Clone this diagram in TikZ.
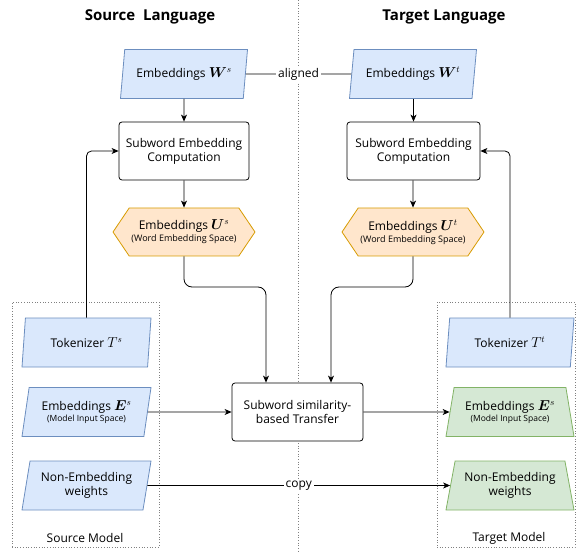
\documentclass[tikz,border=0pt]{standalone}
\usepackage{fontspec}
\setmainfont{Open Sans}
\usepackage{amsmath,bm}
\usetikzlibrary{shapes.geometric,shapes.symbols,arrows.meta}
\definecolor{bluefill}{HTML}{DAE8FC}
\definecolor{bluedraw}{HTML}{6C8EBF}
\definecolor{orfill}{HTML}{FFE6CC}
\definecolor{ordraw}{HTML}{D79B00}
\definecolor{grfill}{HTML}{D5E8D4}
\definecolor{grdraw}{HTML}{82B366}
% math symbols set a little larger than the surrounding text
\newcommand{\msym}[1]{{\fontsize{13.5}{14}\selectfont$#1$}}
\begin{document}
\begin{tikzpicture}[x=1pt,y=-1pt,
  font=\fontsize{12}{14}\selectfont,
  para/.style={trapezium, trapezium left angle=74, trapezium right angle=106,
    trapezium stretches body, draw=bluedraw, fill=bluefill, line width=0.8pt,
    minimum height=49pt, minimum width=129pt, align=center, inner sep=1pt},
  trap/.style={trapezium, trapezium angle=72, trapezium stretches body,
    draw=grdraw, fill=grfill, line width=0.8pt,
    minimum height=49pt, minimum width=128pt, align=center, inner sep=1pt},
  hexa/.style={signal, signal to=east and west, signal pointer angle=112,
    draw=ordraw, fill=orfill, line width=0.8pt,
    minimum width=142pt, minimum height=48pt, align=center, inner sep=1pt},
  proc/.style={draw, rounded corners=3pt, line width=0.8pt, fill=white,
    minimum width=130pt, minimum height=58pt, align=center, inner sep=1pt},
  frame/.style={draw=gray, dotted, line width=0.7pt},
  title/.style={font=\bfseries\fontsize{15}{17}\selectfont},
  conn/.style={line width=0.8pt},
  arr/.style={conn, -{Stealth[length=7pt,width=6pt,inset=2pt]}},
  lbl/.style={fill=white, inner sep=2pt}
]
\useasboundingbox (0,0) rectangle (586,553);

% divider between the two languages
\coordinate (divtop) at (298,0);
\coordinate (divbot) at (298,553);
\draw[frame] (divtop) -- (divbot);

% model frames
\node[frame, minimum width=147pt, minimum height=245pt] (mS) at (85.5,424.5) {};
\node[frame, minimum width=138pt, minimum height=245pt] (mT) at (506,424.5) {};
\node (mSl) at (85,538) {Source Model};
\node (mTl) at (509,538) {Target Model};

% titles
\node[title] (tS) at (150,17) {Source\ \ Language};
\node[title] (tT) at (444,17) {Target Language};

% word embeddings
\node[para, minimum width=127pt] (Ws) at (184,74) {Embeddings \msym{\bm{W}^s}};
\node[para, minimum width=127pt] (Wt) at (413,74) {Embeddings \msym{\bm{W}^t}};

% subword embedding computation
\node[proc] (cS) at (184,151) {Subword Embedding\\Computation};
\node[proc, minimum width=133pt] (cT) at (413.5,151) {Subword Embedding\\Computation};

% subword embeddings in word space
\node[hexa] (uS) at (184,232) {Embeddings \msym{\bm{U}^s}\\[-2pt]{\fontsize{9}{11}\selectfont (Word Embedding Space)}};
\node[hexa] (uT) at (413,232) {Embeddings \msym{\bm{U}^t}\\[-2pt]{\fontsize{9}{11}\selectfont (Word Embedding Space)}};

% transfer
\node[proc, minimum width=131pt] (tr) at (297.5,412) {Subword similarity-\\based Transfer};

% source model parts
\node[para] (TkS) at (86.5,342.5) {Tokenizer \msym{T^s}};
\node[para] (ES) at (86.5,412) {Embeddings \msym{\bm{E}^s}\\[-3pt]{\fontsize{8.5}{10}\selectfont (Model Input Space)}};
\node[para] (NS) at (86.5,485.5) {Non-Embedding\\weights};

% target model parts
\node[para, minimum width=128pt] (TkT) at (510,342.5) {Tokenizer \msym{T^t}};
\node[trap] (ET) at (510,412) {Embeddings \msym{\bm{E}^s}\\[-3pt]{\fontsize{8.5}{10}\selectfont (Model Input Space)}};
\node[trap] (NT) at (510,485.5) {Non-Embedding\\weights};

% connectors
\draw[conn] (Ws) -- node[lbl] {aligned} (Wt);
\draw[arr] (Ws) -- (cS);
\draw[arr] (Wt.south -| cT) -- (cT);
\draw[arr] (cS) -- (uS);
\draw[arr] (cT.south -| uT) -- (uT);

\coordinate (kS) at (266,287);
\coordinate (kT) at (331,287);
\draw[arr, rounded corners=8pt] (uS.south) |- (kS) -- (kS |- tr.north);
\draw[arr, rounded corners=8pt] (uT.south) |- (kT) -- (kT |- tr.north);

\draw[arr, rounded corners=5pt] (TkS.north) |- (cS.west);
\draw[arr, rounded corners=5pt] (TkT.north) |- (cT.east);

\draw[arr] (ES) -- (tr);
\draw[arr] (tr) -- (ET);
\draw[arr] (NS) -- node[lbl] {copy} (NT);
\end{tikzpicture}
\end{document}
